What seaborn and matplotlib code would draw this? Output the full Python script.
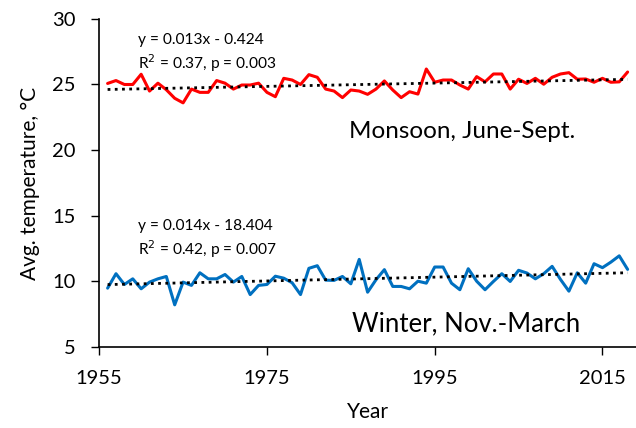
import numpy as np
import pandas as pd
import matplotlib
matplotlib.use("Agg")
import matplotlib.pyplot as plt
import seaborn as sns

years = list(range(1956, 2019))
monsoon = [25.08, 25.3, 25.0, 25.0, 25.78, 24.5, 25.1, 24.6, 23.95, 23.6,
           24.65, 24.4, 24.4, 25.3, 25.1, 24.65, 24.96, 24.96, 25.1, 24.4,
           24.07, 25.47, 25.34, 25.0, 25.75, 25.55, 24.65, 24.5, 24.0, 24.58,
           24.5, 24.25, 24.65, 25.27, 24.58, 24.0, 24.45, 24.27, 26.18, 25.17,
           25.34, 25.34, 24.96, 24.65, 25.6, 25.2, 25.8, 25.8, 24.65, 25.4,
           25.08, 25.47, 25.02, 25.55, 25.8, 25.9, 25.4, 25.42, 25.17, 25.47,
           25.17, 25.2, 25.95]
winter = [9.49, 10.59, 9.77, 10.2, 9.44, 9.95, 10.2, 10.38, 8.22, 9.95,
          9.7, 10.66, 10.2, 10.2, 10.53, 9.95, 10.38, 9.0, 9.7, 9.77,
          10.4, 10.25, 9.9, 9.0, 11.0, 11.2, 10.1, 10.08, 10.38, 9.82,
          11.68, 9.18, 10.13, 10.9, 9.62, 9.62, 9.44, 10.02, 9.87, 11.1,
          11.1, 9.87, 9.37, 10.97, 10.02, 9.37, 10.0, 10.59, 10.0, 10.85,
          10.64, 10.2, 10.59, 11.15, 10.15, 9.26, 10.66, 9.87, 11.35, 11.05,
          11.47, 11.95, 10.92]
x_ticks = [1955, 1975, 1995, 2015]
y_ticks = [5, 10, 15, 20, 25, 30]

sns.set_theme(style="ticks")
plt.rcParams['font.family'] = ['Lato', 'DejaVu Sans']

df = pd.DataFrame({"Year": years, "Monsoon": monsoon, "Winter": winter})

fig = plt.figure(figsize=(6.36, 4.28), dpi=100)
ax = fig.add_axes([0.156, 0.189, 0.844, 0.767])

sns.lineplot(data=df, x="Year", y="Monsoon", color="#FF0000", linewidth=2.2, ax=ax)
sns.lineplot(data=df, x="Year", y="Winter", color="#0070C0", linewidth=2.2, ax=ax)

yrs = np.array(years, dtype=float)
for vals in (monsoon, winter):
    k, b = np.polyfit(yrs, np.array(vals), 1)
    ax.plot(yrs, k * yrs + b, color="black", linestyle=(0, (1, 1.6)), linewidth=2.0)

ax.set_xlim(1955, 2019)
ax.set_ylim(5, 30)
ax.set_xticks(x_ticks)
ax.set_yticks(y_ticks)
ax.tick_params(axis="both", labelsize=14.5, length=6, width=1, color="black", labelcolor="black")
ax.tick_params(axis="x", pad=10.5)
ax.tick_params(axis="y", pad=11)
for s in ["top", "right"]:
    ax.spines[s].set_visible(False)
for s in ["left", "bottom"]:
    ax.spines[s].set_color("black")
    ax.spines[s].set_linewidth(1.2)
ax.set_xlabel("Year", fontsize=15, color="black", labelpad=11)
ax.set_ylabel("Avg. temperature, °C", fontsize=15, color="black", labelpad=9)

ax.text(1959.6, 28.35, "y = 0.013x - 0.424", fontsize=11.2, va="center", color="black")
ax.text(1959.6, 26.65, "R$^2$ = 0.37, p = 0.003", fontsize=11.2, va="center", color="black")
ax.text(1959.6, 14.2, "y = 0.014x - 18.404", fontsize=11.2, va="center", color="black")
ax.text(1959.6, 12.45, "R$^2$ = 0.42, p = 0.007", fontsize=11.2, va="center", color="black")
ax.text(1984.8, 20.89, "Monsoon, June-Sept.", fontsize=17.5, va="baseline", color="black")
ax.text(1985.1, 6.21, "Winter, Nov.-March", fontsize=18.5, va="baseline", color="black")

fig.savefig("out.png", dpi=100)
